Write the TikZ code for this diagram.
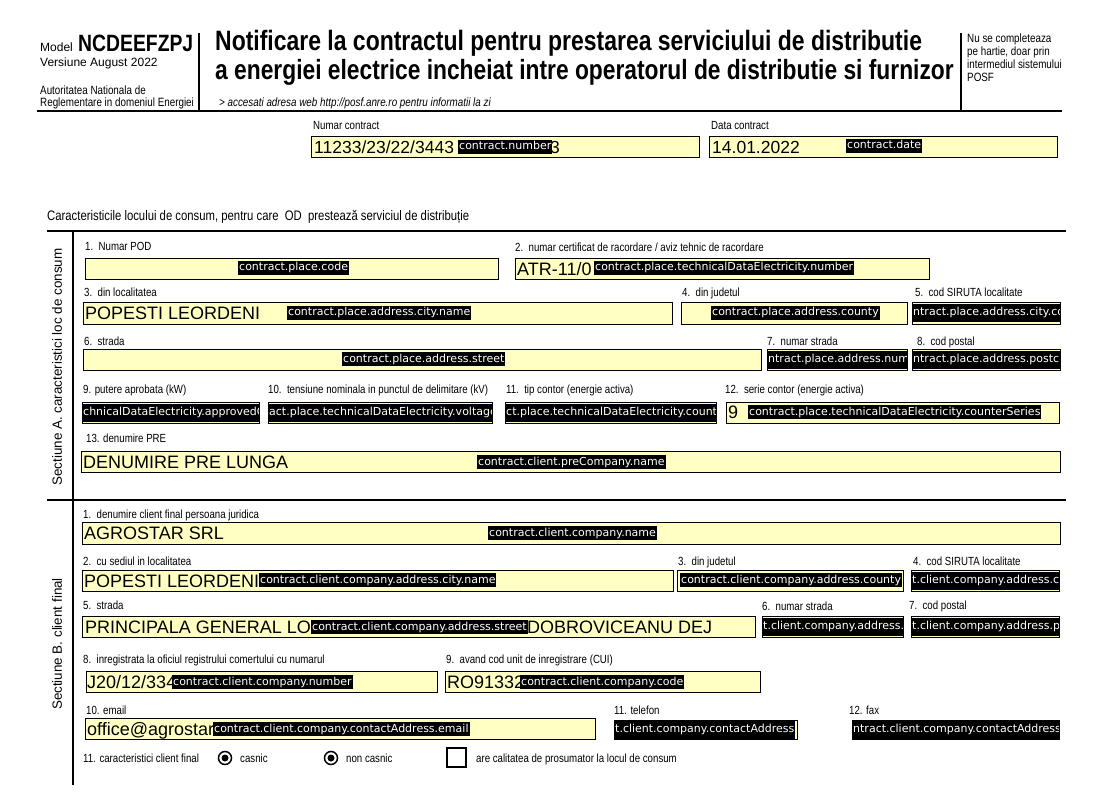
\documentclass[tikz,border=0pt]{standalone}
\usepackage{fontspec}
\setmainfont{Liberation Sans}
\newfontfamily\narrowfont[FakeStretch=0.82]{Liberation Sans}
\newfontfamily\codefont{DejaVu Sans}
\definecolor{formyellow}{RGB}{255,255,196}
\newcommand{\fsz}[1]{\fontsize{#1}{#1}\selectfont}
\tikzset{
  lbl/.style={anchor=west, inner sep=0pt, text height=8.5pt, text depth=0.5pt, font=\narrowfont\fsz{11.8}},
  field/.style={draw=black, fill=formyellow, line width=0.9pt},
  val/.style={anchor=west, inner sep=0pt, text height=13pt, text depth=0pt, font=\fsz{18}},
  tag/.style={anchor=west, fill=black, text=white, inner xsep=1pt, inner ysep=1.5pt, text height=8.5pt, text depth=2.5pt, font=\codefont\fsz{11}},
  rule/.style={line width=2pt},
}
\newcommand{\cutfield}[5]{%
  \draw[field] (#1,#2) rectangle (#3,#4);
  \begin{scope}
    \clip (#1,#2) rectangle (#3,#4);
    \node[tag, inner ysep=3.5pt] at (#1,{(#2+#4)/2}) {#5};
  \end{scope}
  \draw[line width=0.9pt] (#1,#2) rectangle (#3,#4);}

\begin{document}
\begin{tikzpicture}[x=1pt, y=-1pt]
		\useasboundingbox[fill=white] (0,0) rectangle (1109,805);
		%%%%% HEADER %%%%%
		
		\node[anchor=west, inner sep=0pt, font=\fsz{12}] at (40,47) {Model};
		\node[anchor=west, inner sep=0pt, font=\narrowfont\bfseries\fsz{23.6}] at (78,43) {NCDEEFZPJ};
		\node[anchor=west, inner sep=0pt, font=\fsz{12}] at (40,63) {Versiune August 2022};
		\node[lbl, font=\narrowfont\fsz{12}] at (40,91) {Autoritatea Nationala de};
		\node[lbl, font=\narrowfont\fsz{12}] at (40,103) {Reglementare in domeniul Energiei};
		\draw[rule] (199,33) -- (199,110);
		
		\node[anchor=west, inner sep=0pt, font=\narrowfont\bfseries\fsz{28}] at (215,43) {Notificare la contractul pentru prestarea serviciului de distributie};
		\node[anchor=west, inner sep=0pt, font=\narrowfont\bfseries\fsz{27.8}] at (215,72) {a energiei electrice incheiat intre operatorul de distributie si furnizor};
		\node[lbl, font=\narrowfont\itshape\fsz{12}] at (219,103) {> accesati adresa web http://posf.anre.ro pentru informatii la zi};
		\draw[rule] (961,33) -- (961,110);
		\node[anchor=north west, inner sep=0pt, align=left, font=\narrowfont\fontsize{12}{13}\selectfont] at (967,34) {Nu se completeaza\\pe hartie, doar prin\\intermediul sistemului\\POSF};
		\draw[rule] (37,111) -- (1062,111);
		
		%%%%% CONTRACT %%%%%
		
		\node[lbl] at (313,126) {Numar contract};
		\draw[field] (311,136) rectangle (699,157);
		\node[val, font=\fsz{17.5}] at (314,147) {11233/23/22/3443};
		\node[val, font=\fsz{17.5}] at (550,147) {3};
		\node[tag] at (458,147) {contract.number};
		
		\node[lbl] at (711,126) {Data contract};
		\draw[field] (709,136) rectangle (1057,157);
		\node[val, font=\fsz{17.5}] at (712,147) {14.01.2022};
		\node[tag] at (846,146) {contract.date};
		
		%%%%% SECTIUNE A %%%%%
		
		\node[lbl, font=\narrowfont\fsz{13.8}] at (47,217) {Caracteristicile locului de consum, pentru care\ \ OD\ \ prestează serviciul de distribuție};
		\draw[rule] (47,231) -- (1066,231);
		\draw[rule] (73,231) -- (73,785);
		\node[rotate=90, font=\fsz{13.4}, inner sep=0pt] at (57,367) {Sectiune A. caracteristici loc de consum};
		
		\node[lbl] at (85,247) {1.\ \ Numar POD};
		\draw[field] (85,258) rectangle (498,279);
		\node[tag] at (238,268) {contract.place.code};
		\node[lbl] at (515,248) {2.\ \ numar certificat de racordare / aviz tehnic de racordare};
		\draw[field] (515,258) rectangle (929,279);
		\node[val] at (517,269) {ATR-11/0};
		\node[tag] at (594,268) {contract.place.technicalDataElectricity.number};
		
		\node[lbl] at (84,293) {3.\ \ din localitatea};
		\draw[field] (83,302) rectangle (672,324);
		\node[val] at (85,313) {POPESTI LEORDENI};
		\node[tag] at (287,313) {contract.place.address.city.name};
		\node[lbl] at (682,293) {4.\ \ din judetul};
		\draw[field] (681,302) rectangle (907,324);
		\node[tag] at (711,313) {contract.place.address.county};
		\node[lbl] at (915,293) {5.\ \ cod SIRUTA localitate};
		\cutfield{912}{302}{1060}{324}{ntract.place.address.city.co}
		
		\node[lbl] at (84,341) {6.\ \ strada};
		\draw[field] (83,349) rectangle (761,370);
		\node[tag] at (342,359) {contract.place.address.street};
		\node[lbl] at (767,341) {7.\ \ numar strada};
		\cutfield{767}{349}{907}{370}{ntract.place.address.numb}
		\node[lbl] at (917,341) {8.\ \ cod postal};
		\cutfield{912}{349}{1060}{370}{ntract.place.address.postco}
		
		\node[lbl] at (83,389) {9. putere aprobata (kW)};
		\cutfield{82}{402}{259}{423}{chnicalDataElectricity.approvedCo}
		\node[lbl] at (268,389) {10.\ \ tensiune nominala in punctul de delimitare (kV)};
		\cutfield{268}{402}{492}{423}{act.place.technicalDataElectricity.voltage}
		\node[lbl] at (506,389) {11.\ \ tip contor (energie activa)};
		\cutfield{505}{402}{716}{423}{ct.place.technicalDataElectricity.counte}
		\node[lbl] at (725,389) {12.\ \ serie contor (energie activa)};
		\draw[field] (726,402) rectangle (1059,423);
		\node[val] at (728,412) {9};
		\node[tag] at (748,412) {contract.place.technicalDataElectricity.counterSeries};
		
		\node[lbl] at (86,438) {13. denumire PRE};
		\draw[field] (81,451) rectangle (1060,472);
		\node[val] at (83,462) {DENUMIRE PRE LUNGA};
		\node[tag] at (477,462) {contract.client.preCompany.name};
		
		\draw[rule] (47,500) -- (1066,500);
		
		%%%%% SECTIUNE B %%%%%
		
		\node[rotate=90, font=\fsz{13.4}, inner sep=0pt] at (57,644) {Sectiune B. client final};
		
		\node[lbl] at (83,514) {1.\ \ denumire client final persoana juridica};
		\draw[field] (82,522) rectangle (1060,544);
		\node[val] at (84,533) {AGROSTAR SRL};
		\node[tag] at (488,533) {contract.client.company.name};
		
		\node[lbl] at (83,561) {2.\ \ cu sediul in localitatea};
		\draw[field] (82,570) rectangle (673,591);
		\node[val] at (84,581) {POPESTI LEORDENI};
		\node[tag] at (259,580) {contract.client.company.address.city.name};
		\node[lbl] at (678,561) {3.\ \ din judetul};
		\draw[field] (677,570) rectangle (903,591);
		\node[tag] at (680,580) {contract.client.company.address.county};
		\node[lbl] at (913,561) {4.\ \ cod SIRUTA localitate};
		\cutfield{911}{570}{1059}{591}{t.client.company.address.ci}
		
		\node[lbl] at (83,605) {5.\ \ strada};
		\draw[field] (82,616) rectangle (755,637);
		\node[val] at (85,627) {PRINCIPALA GENERAL LO};
		\node[tag] at (311,627) {contract.client.company.address.street};
		\node[val] at (527,627) {DOBROVICEANU DEJ};
		\node[lbl] at (762,606) {6.\ \ numar strada};
		\cutfield{762}{616}{903}{637}{t.client.company.address.}
		\node[lbl] at (909,605) {7.\ \ cod postal};
		\cutfield{911}{616}{1059}{637}{t.client.company.address.po}
		
		\node[lbl] at (83,659) {8.\ \ inregistrata la oficiul registrului comertului cu numarul};
		\draw[field] (86,671) rectangle (437,692);
		\node[val] at (87,682) {J20/12/334};
		\node[tag] at (172,682) {contract.client.company.number};
		\node[lbl] at (446,659) {9.\ \ avand cod unit de inregistrare (CUI)};
		\draw[field] (445,671) rectangle (760,692);
		\node[val] at (447,682) {RO91332};
		\node[tag] at (520,682) {contract.client.company.code};
		
		\node[lbl] at (86,710) {10. email};
		\draw[field] (85,718) rectangle (595,739);
		\node[val] at (87,729) {office@agrostar};
		\node[tag] at (213,729) {contract.client.company.contactAddress.email};
		\node[lbl] at (614,710) {11. telefon};
		\cutfield{614}{720}{797}{739}{t.client.company.contactAddress}
		\node[lbl] at (849,710) {12. fax};
		\cutfield{852}{720}{1059}{739}{ntract.client.company.contactAddress.}
		
		\node[lbl] at (83,758) {11. caracteristici client final};
		\draw[line width=1.5pt] (225,758) circle (6.5);
		\fill (225,758) circle (3.5);
		\node[lbl] at (240,758) {casnic};
		\draw[line width=1.5pt] (331,758) circle (6.5);
		\fill (331,758) circle (3.5);
		\node[lbl] at (346,758) {non casnic};
		\draw[line width=1.5pt] (447,748) rectangle (466,767);
		\node[lbl] at (476,758) {are calitatea de prosumator la locul de consum};
		
		%%%%% END %%%%%
\end{tikzpicture}
\end{document}
